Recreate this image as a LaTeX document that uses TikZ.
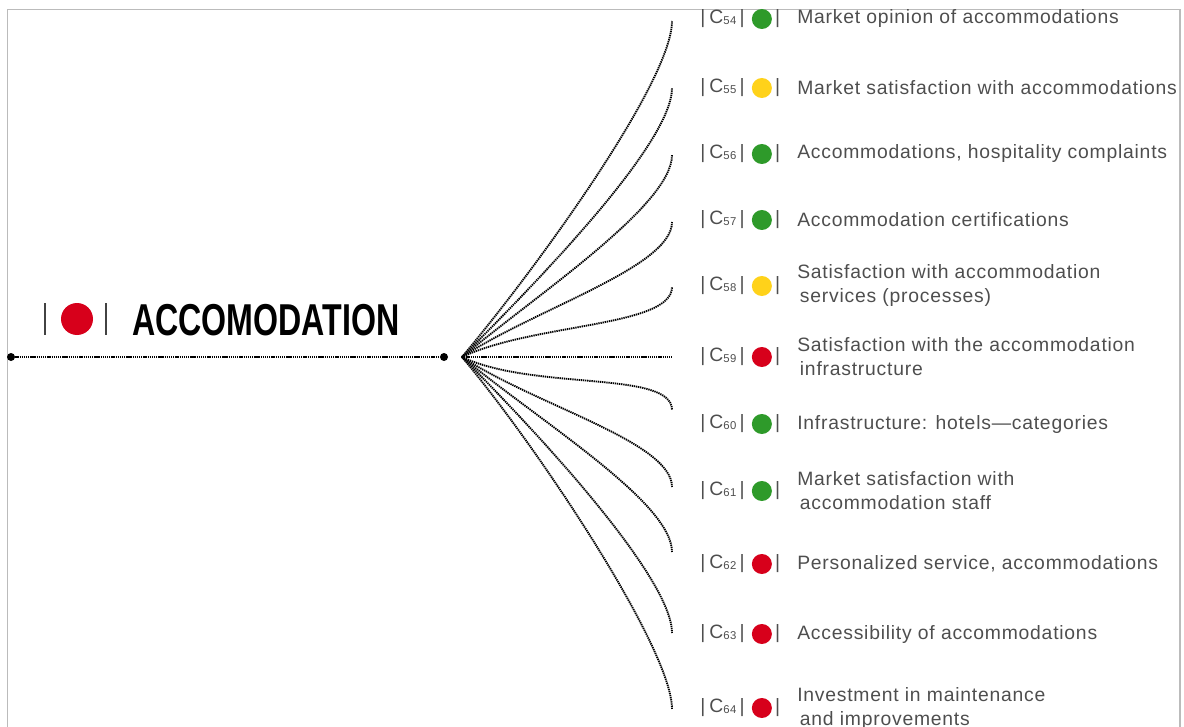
\documentclass[tikz,border=0pt]{standalone}
\usepackage{fontspec}
\usepackage{xcolor}
\usetikzlibrary{positioning, calc}
\setmainfont{Liberation Sans}
\newfontfamily\labelfont{Liberation Sans}[LetterSpace=4]
\newfontfamily\titlefont{Liberation Sans}[FakeStretch=0.72]
\definecolor{cgreen}{HTML}{2E9A2A}
\definecolor{cyellow}{HTML}{FFD21A}
\definecolor{cred}{HTML}{D7001B}
\definecolor{txtgray}{HTML}{4E4E4E}
\definecolor{bargray}{HTML}{6E6E6E}
\definecolor{framegray}{HTML}{BBBBBB}

\begin{document}
\begin{tikzpicture}[x=0.75pt, y=-0.75pt]
    \tikzstyle{fan}=[line width=1.4pt, dash pattern=on 1pt off 0.6pt]
    \tikzstyle{knot}=[circle, fill=black, inner sep=0pt, minimum size=6pt]
    \tikzstyle{lamp}=[circle, inner sep=0pt, minimum size=15pt]
    \tikzstyle{tagtext}=[inner sep=0pt, font=\labelfont\fontsize{14.5}{18}\selectfont,
                         text=txtgray]
    \tikzstyle{titlebar}=[rectangle, fill=bargray!60!black, inner sep=0pt,
                          minimum width=1.5pt, minimum height=24pt]

    \useasboundingbox (0,0) rectangle (1184,727);
    \draw[framegray, line width=1pt] (7.5,727) |- (1180,9.5) -- (1180,727);

    % title
    \node[titlebar] (bar1) at (45,319) {};
    \node[lamp, fill=cred, minimum size=24pt] (main) at (77,319) {};
    \node[titlebar] (bar2) at (106,319) {};
    \node[anchor=base west, inner sep=0pt,
          font=\titlefont\bfseries\fontsize{33.5}{36}\selectfont] (title)
          at (132,335) {ACCOMODATION};

    % axis
    \node[knot] (k1) at (11,357) {};
    \node[knot] (k2) at (444,357) {};
    \coordinate (hub) at (462,357);
    \draw[fan] (k1) -- (k2);

    % criteria
    \foreach \n/\y/\c/\t in {
        54/19/cgreen/{Market opinion of accommodations},
        55/88/cyellow/{Market satisfaction with accommodations},
        56/154/cgreen/{Accommodations, hospitality complaints},
        57/220/cgreen/{Accommodation certifications},
        58/286/cyellow/{Satisfaction with accommodation\\\hspace*{2pt}services (processes)},
        59/357/cred/{Satisfaction with the accommodation\\\hspace*{2pt}infrastructure},
        60/424/cgreen/{Infrastructure: hotels—categories},
        61/491/cgreen/{Market satisfaction with\\\hspace*{2pt}accommodation staff},
        62/564/cred/{Personalized service, accommodations},
        63/634/cred/{Accessibility of accommodations},
        64/708/cred/{Investment in maintenance\\\hspace*{2pt}and improvements}} {
      \node[tagtext, anchor=west] (c\n) at (700,\y)
           {|\hspace{3pt}C\raisebox{-0.3pt}{\fontsize{8.5}{9}\selectfont\n}\hspace{2.5pt}|};
      \node[lamp, fill=\c, right=5pt of c\n] (d\n) {};
      \node[tagtext, right=2pt of d\n] (b\n) {|};
      \node[tagtext, anchor=west, align=left] (l\n) at (797,\y) {\t};
    }

    % fan of connectors
    \foreach \n/\ye/\dx/\dy/\h in {
        54/21/77/-92/60, 55/88/78/-78/55, 56/155/77/-64/50,
        57/222/75/-49/45, 58/287/72/-34/40,
        60/410/72/34/-40, 61/487/75/49/-45, 62/552/77/64/-50,
        63/633/78/78/-55, 64/709/77/92/-60} {
      \coordinate (e\n) at (672,\ye);
      \draw[fan] (hub) .. controls +(\dx,\dy) and +(0,\h) .. (e\n);
    }
    \coordinate (e59) at (672,357);
    \draw[fan] (hub) -- (e59);
\end{tikzpicture}
\end{document}
